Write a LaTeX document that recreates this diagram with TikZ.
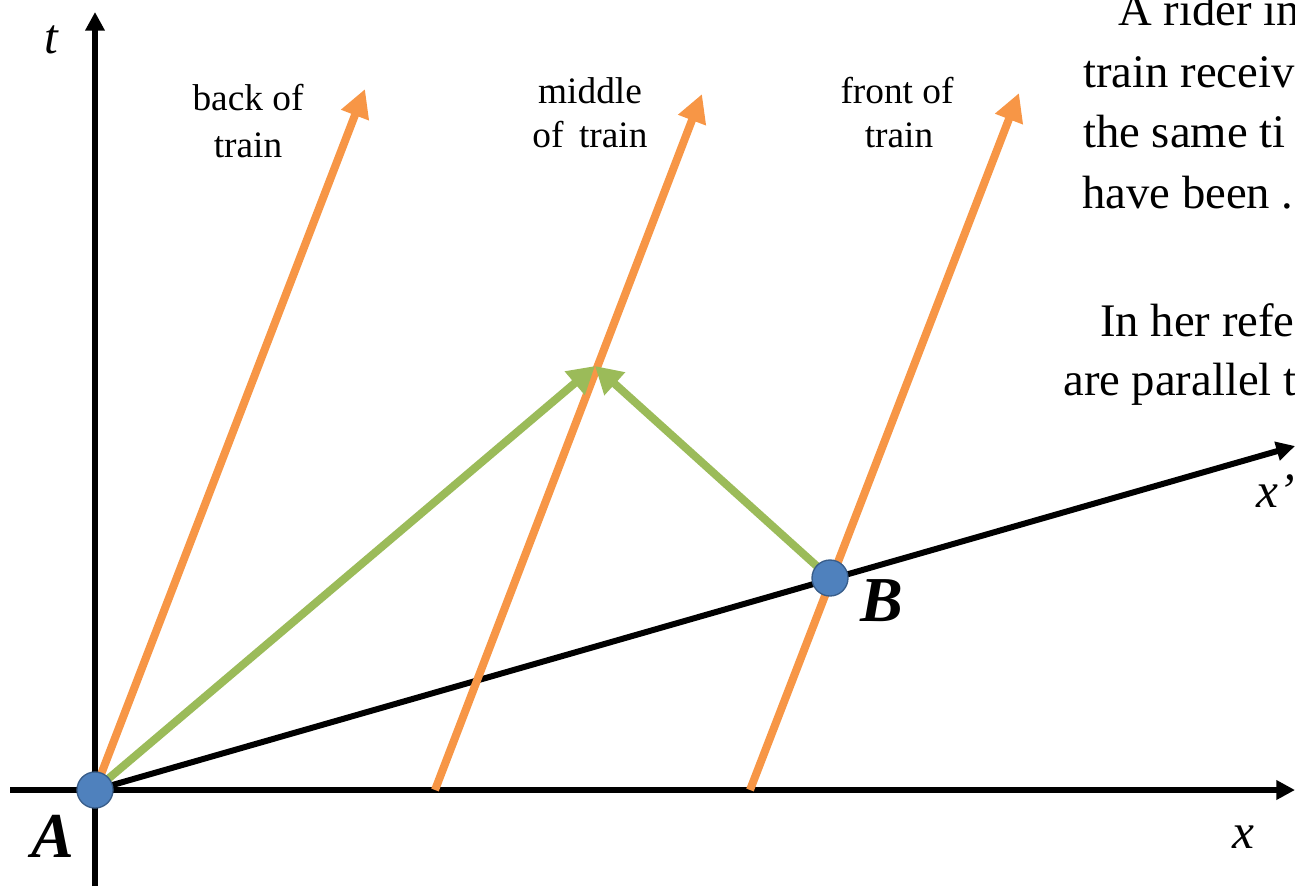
\documentclass[tikz,border=0pt]{standalone}
\usepackage{fontspec}
\setmainfont{Liberation Serif}
\usetikzlibrary{arrows.meta}
\definecolor{orng}{HTML}{F79646}
\definecolor{grn}{HTML}{9BBB59}
\definecolor{blu}{HTML}{4F81BD}
\definecolor{bluedge}{HTML}{385D8A}
\begin{document}
\begin{tikzpicture}[x=0.75pt,y=-0.75pt,
  axis/.style={line width=4.5pt,-{Triangle[length=14pt,width=14pt]}},
  plainaxis/.style={line width=4.5pt},
  world/.style={line width=6pt,orng,-{Triangle[length=21pt,width=21pt]}},
  light/.style={line width=6pt,grn,-{Triangle[length=20pt,width=22pt]}},
  dot/.style={circle,fill=blu,draw=bluedge,line width=1pt,minimum size=27pt,inner sep=0pt},
  lbl/.style={font=\fontsize{28}{33}\selectfont,anchor=base,inner sep=0pt},
  body/.style={font=\fontsize{35}{42}\selectfont,anchor=base west,inner sep=0pt},
  axlbl/.style={font=\fontsize{37}{44}\selectfont\itshape,anchor=base,inner sep=0pt},
  evlbl/.style={font=\fontsize{48}{56}\selectfont\bfseries\itshape,anchor=base,inner sep=0pt}]
\clip (0,0) rectangle (1295,886);
% key points
\coordinate (A) at (95,790);
\coordinate (B) at (830,578);
\coordinate (M) at (595,366);
\coordinate (tbot) at (95,886);
\coordinate (ttop) at (95,12);
\coordinate (xl) at (10,790);
\coordinate (xr) at (1295,790);
\coordinate (xp) at (1295,446);
\coordinate (m0) at (435,790);
\coordinate (f0) at (750,790);
\coordinate (bT) at (365,89);
\coordinate (mT) at (702,94);
\coordinate (fT) at (1019,93);
% axes
\draw[axis] (tbot) -- (ttop);
\draw[axis] (xl) -- (xr);
\draw[axis] (A) -- (xp);
% world lines of the train
\draw[world] (A) -- (bT);
\draw[world] (m0) -- (mT);
\draw[world] (f0) -- (fT);
% light signals
\draw[light] (A) -- (M);
\draw[light] (B) -- (M);
% events
\node[dot] (Adot) at (A) {};
\node[dot] (Bdot) at (B) {};
% labels
\node[axlbl] (tlab) at (51,53) {t};
\node[axlbl] (xlab) at (1243,848) {x};
\node[axlbl] (xplab) at (1276,507) {x’};
\node[evlbl] (Alab) at (53,857) {A};
\node[evlbl] (Blab) at (882,621) {B};
\node[lbl] (back1) at (248,110) {back of};
\node[lbl] (back2) at (248,157) {train};
\node[lbl] (mid1) at (590,103) {middle};
\node[lbl] (mid2) at (590,147) {of\, train};
\node[lbl] (frt1) at (897,103) {front of};
\node[lbl] (frt2) at (899,147) {train};
% explanatory text (cut by the right edge)
\node[body] (r1) at (1118,25) {A rider in};
\node[body] (r2) at (1083,87) {train receiv};
\node[body] (r3) at (1083,147) {the same ti};
\node[body] (r4) at (1082,208) {have been .};
\node[body] (r5) at (1100,336) {In her refe};
\node[body] (r6) at (1063,395) {are parallel t};
\end{tikzpicture}
\end{document}
